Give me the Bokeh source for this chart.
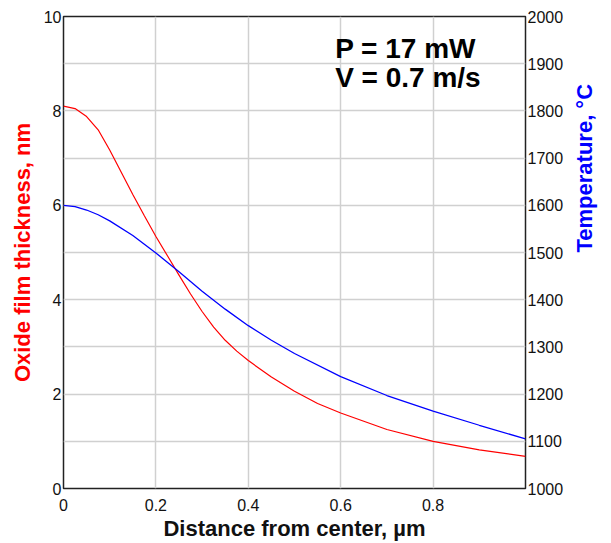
import math
from bokeh.plotting import figure
from bokeh.models import Range1d, LinearAxis, FixedTicker, Label
from bokeh.embed import file_html
from bokeh.resources import INLINE

# Oxide film thickness (nm) vs distance from center (um)
dist_ox = [0.0, 0.025, 0.05, 0.075, 0.10, 0.125, 0.15, 0.175, 0.20, 0.225, 0.25, 0.275,
           0.30, 0.325, 0.35, 0.375, 0.40, 0.45, 0.50, 0.55, 0.60, 0.70, 0.80, 0.90, 1.0]
oxide_nm = [8.1, 8.05, 7.88, 7.6, 7.17, 6.7, 6.23, 5.78, 5.34, 4.93, 4.52, 4.12,
            3.75, 3.42, 3.14, 2.91, 2.71, 2.36, 2.06, 1.8, 1.6, 1.25, 1.0, 0.82, 0.68]

# Temperature (deg C) vs distance from center (um)
dist_t = [0.0, 0.025, 0.05, 0.075, 0.10, 0.15, 0.20, 0.25, 0.30, 0.35, 0.40, 0.45, 0.50,
          0.60, 0.70, 0.80, 0.90, 1.0]
temp_c = [1600, 1597, 1590, 1580, 1567, 1536, 1499, 1459, 1418, 1380, 1345, 1314, 1286,
          1237, 1197, 1164, 1134, 1105]

x_ticks = [0, 0.2, 0.4, 0.6, 0.8]
left_ticks = [0, 2, 4, 6, 8, 10]
right_ticks = list(range(1000, 2001, 100))
annotations = ["P = 17 mW", "V = 0.7 m/s"]

tick_font = "Liberation Sans"
label_font = "Liberation Sans"

p = figure(frame_width=462, frame_height=472, output_backend="svg", toolbar_location=None,
           x_range=Range1d(0, 1.0), y_range=Range1d(0, 10),
           min_border_left=63, min_border_right=80, min_border_top=16, min_border_bottom=50)
p.extra_y_ranges = {"temp": Range1d(1000, 2000)}

p.outline_line_color = "#222222"
p.outline_line_width = 1.5
p.background_fill_color = "white"
p.border_fill_color = "white"

# grids
p.xgrid.ticker = FixedTicker(ticks=x_ticks)
p.ygrid.ticker = FixedTicker(ticks=list(range(0, 11)))
for g in (p.xgrid, p.ygrid):
    g.grid_line_color = "#d0d0d0"
    g.grid_line_width = 1.5

# axes
xa = p.xaxis[0]
xa.ticker = FixedTicker(ticks=x_ticks)
xa.axis_label = "Distance from center, µm"
ya = p.yaxis[0]
ya.ticker = FixedTicker(ticks=left_ticks)
ya.axis_label = "Oxide film thickness, nm"
ya.axis_label_text_color = "#ff0000"

ra = LinearAxis(y_range_name="temp", ticker=FixedTicker(ticks=right_ticks),
                axis_label="Temperature, °C")
ra.axis_label_text_color = "#0000ff"
p.add_layout(ra, "right")
try:
    ra.axis_label_orientation = math.pi / 2
except Exception:
    pass

for ax in (xa, ya, ra):
    ax.axis_line_color = None
    ax.major_tick_line_color = None
    ax.minor_tick_line_color = None
    ax.major_tick_out = 0
    ax.major_tick_in = 0
    ax.major_label_text_font = tick_font
    ax.major_label_text_font_size = "16px"
    ax.major_label_text_color = "#111111"
    ax.axis_label_text_font = label_font
    ax.axis_label_text_font_size = "22px"
    ax.axis_label_text_font_style = "bold"
xa.axis_label_text_color = "#111111"
xa.major_label_standoff = 10
xa.axis_label_standoff = 2
ya.major_label_standoff = 2
ya.axis_label_standoff = 6
ra.major_label_standoff = 2
ra.axis_label_standoff = 18

p.line(dist_ox, oxide_nm, line_color="#ff0000", line_width=1.2)
p.line(dist_t, temp_c, line_color="#0000ff", line_width=1.3, y_range_name="temp")

for txt, yy in zip(annotations, [9.65, 9.04]):
    p.add_layout(Label(x=0.588, y=yy, text=txt, text_baseline="top", text_align="left",
                       text_font=label_font, text_font_style="bold", text_font_size="28px",
                       text_color="black"))

open("out.html", "w").write(file_html(p, INLINE))
